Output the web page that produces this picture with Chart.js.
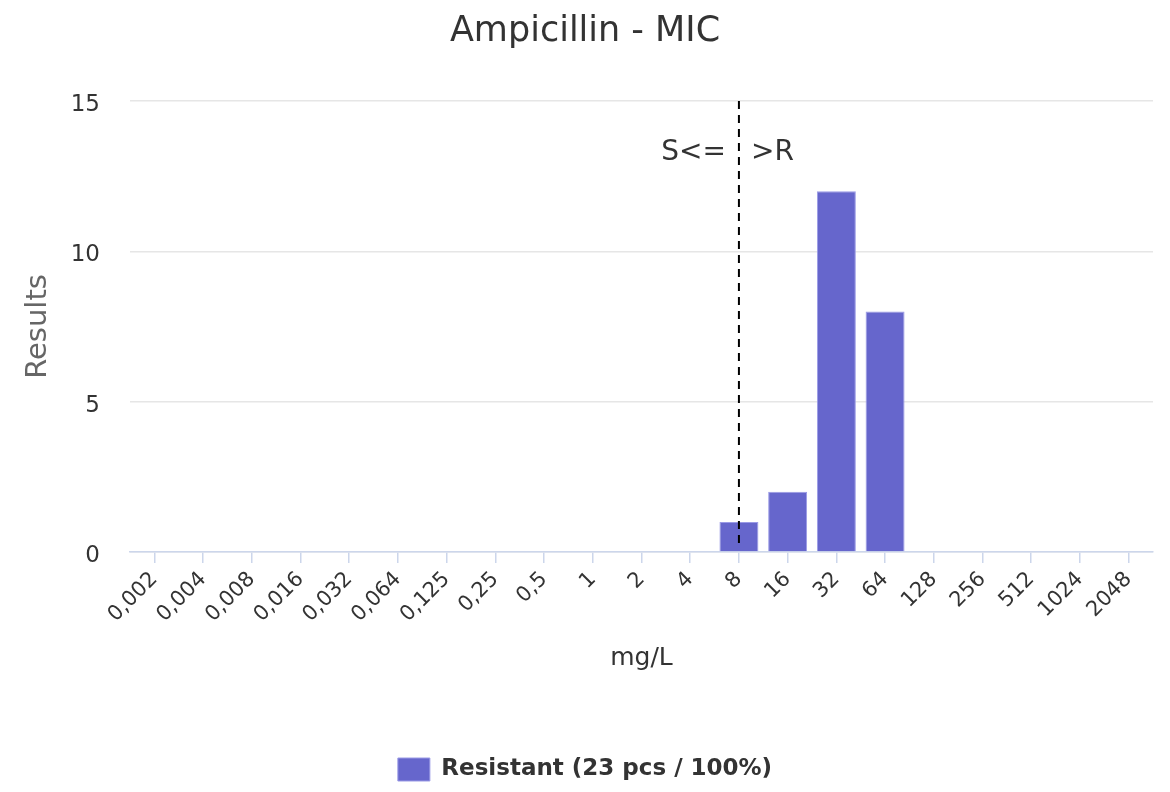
<!DOCTYPE html>
<html>
<head>
<meta charset="utf-8">
<title>Ampicillin - MIC</title>
<script src="https://cdn.jsdelivr.net/npm/chart.js@4/dist/chart.umd.min.js"></script>
<style>
  html, body { margin: 0; padding: 0; background: #fff; }
  #wrap { width: 1170px; height: 792px; }
</style>
</head>
<body>
<div id="wrap"><canvas id="mic"></canvas></div>
<script>
const micLabels = ["0,002","0,004","0,008","0,016","0,032","0,064","0,125","0,25","0,5","1","2","4","8","16","32","64","128","256","512","1024","2048"];
const resistantCounts = [0,0,0,0,0,0,0,0,0,0,0,0,1,2,12,8,0,0,0,0,0];
const yTicks = [0, 5, 10, 15];
const breakpoint = "8";
const seriesName = "Resistant (23 pcs / 100%)";

const FONT = "'DejaVu Sans', Verdana, sans-serif";

// dashed breakpoint line with S<= / >R labels
const breakpointLine = {
  id: "breakpointLine",
  afterDatasetsDraw(chart) {
    const { ctx, chartArea, scales } = chart;
    const x = scales.x.getPixelForValue(micLabels.indexOf(breakpoint));
    ctx.save();
    ctx.strokeStyle = "#000";
    ctx.lineWidth = 2;
    ctx.setLineDash([8, 6]);
    ctx.beginPath();
    ctx.moveTo(x, chartArea.top);
    ctx.lineTo(x, chartArea.bottom - 4);
    ctx.stroke();
    ctx.setLineDash([]);
    ctx.font = "28px " + FONT;
    ctx.fillStyle = "#333";
    ctx.textBaseline = "middle";
    ctx.textAlign = "right";
    ctx.fillText("S<=", x - 13, chartArea.top + 52);
    ctx.textAlign = "left";
    ctx.fillText(">R", x + 12, chartArea.top + 52);
    ctx.restore();
  }
};

new Chart(document.getElementById("mic"), {
  type: "bar",
  data: {
    labels: micLabels,
    datasets: [{
      label: seriesName,
      data: resistantCounts,
      backgroundColor: "#6666cc",
      borderColor: "#9a9ae6",
      borderWidth: 1,
      categoryPercentage: 0.8,
      barPercentage: 1
    }]
  },
  options: {
    responsive: true,
    maintainAspectRatio: false,
    animation: false,
    layout: { padding: { left: 0, right: 0, top: 0, bottom: 1 } },
    plugins: {
      title: {
        display: true,
        text: "Ampicillin - MIC",
        color: "#333",
        font: { family: FONT, size: 35, weight: "normal" },
        padding: { top: 11, bottom: 48 }
      },
      legend: {
        position: "bottom",
        labels: {
          color: "#333",
          font: { family: FONT, size: 23, weight: "bold" },
          boxWidth: 32,
          boxHeight: 23,
          padding: 10
        },
        onClick: null
      },
      tooltip: { enabled: false }
    },
    scales: {
      x: {
        offset: true,
        afterFit(scale) {
          scale.height = 196;
          scale.paddingLeft = 0;
          scale.paddingRight = 17;
        },
        grid: {
          offset: false,
          drawOnChartArea: false,
          drawTicks: true,
          tickLength: 11,
          color: "#ccd6eb",
          lineWidth: 1.5
        },
        border: { color: "#ccd6eb", width: 1.5 },
        ticks: {
          color: "#333",
          font: { family: FONT, size: 21 },
          maxRotation: 45,
          minRotation: 45,
          autoSkip: false,
          padding: 4
        },
        title: {
          display: true,
          text: "mg/L",
          color: "#333",
          font: { family: FONT, size: 25 },
          padding: { top: 10, bottom: 75 }
        }
      },
      y: {
        min: 0,
        max: 15,
        afterBuildTicks(scale) {
          scale.ticks = yTicks.map(v => ({ value: v }));
        },
        afterFit(scale) {
          scale.width = 130;
          scale.paddingTop = 0;
          scale.paddingBottom = 0;
        },
        grid: {
          color: "#e6e6e6",
          lineWidth: 1.5,
          drawTicks: false
        },
        border: { display: false },
        ticks: {
          color: "#333",
          font: { family: FONT, size: 23 },
          padding: 30,
          labelOffset: 4
        },
        title: {
          display: true,
          text: "Results",
          color: "#666",
          font: { family: FONT, size: 29 },
          padding: { top: 21, bottom: 10 }
        }
      }
    }
  },
  plugins: [breakpointLine]
});
</script>
</body>
</html>
